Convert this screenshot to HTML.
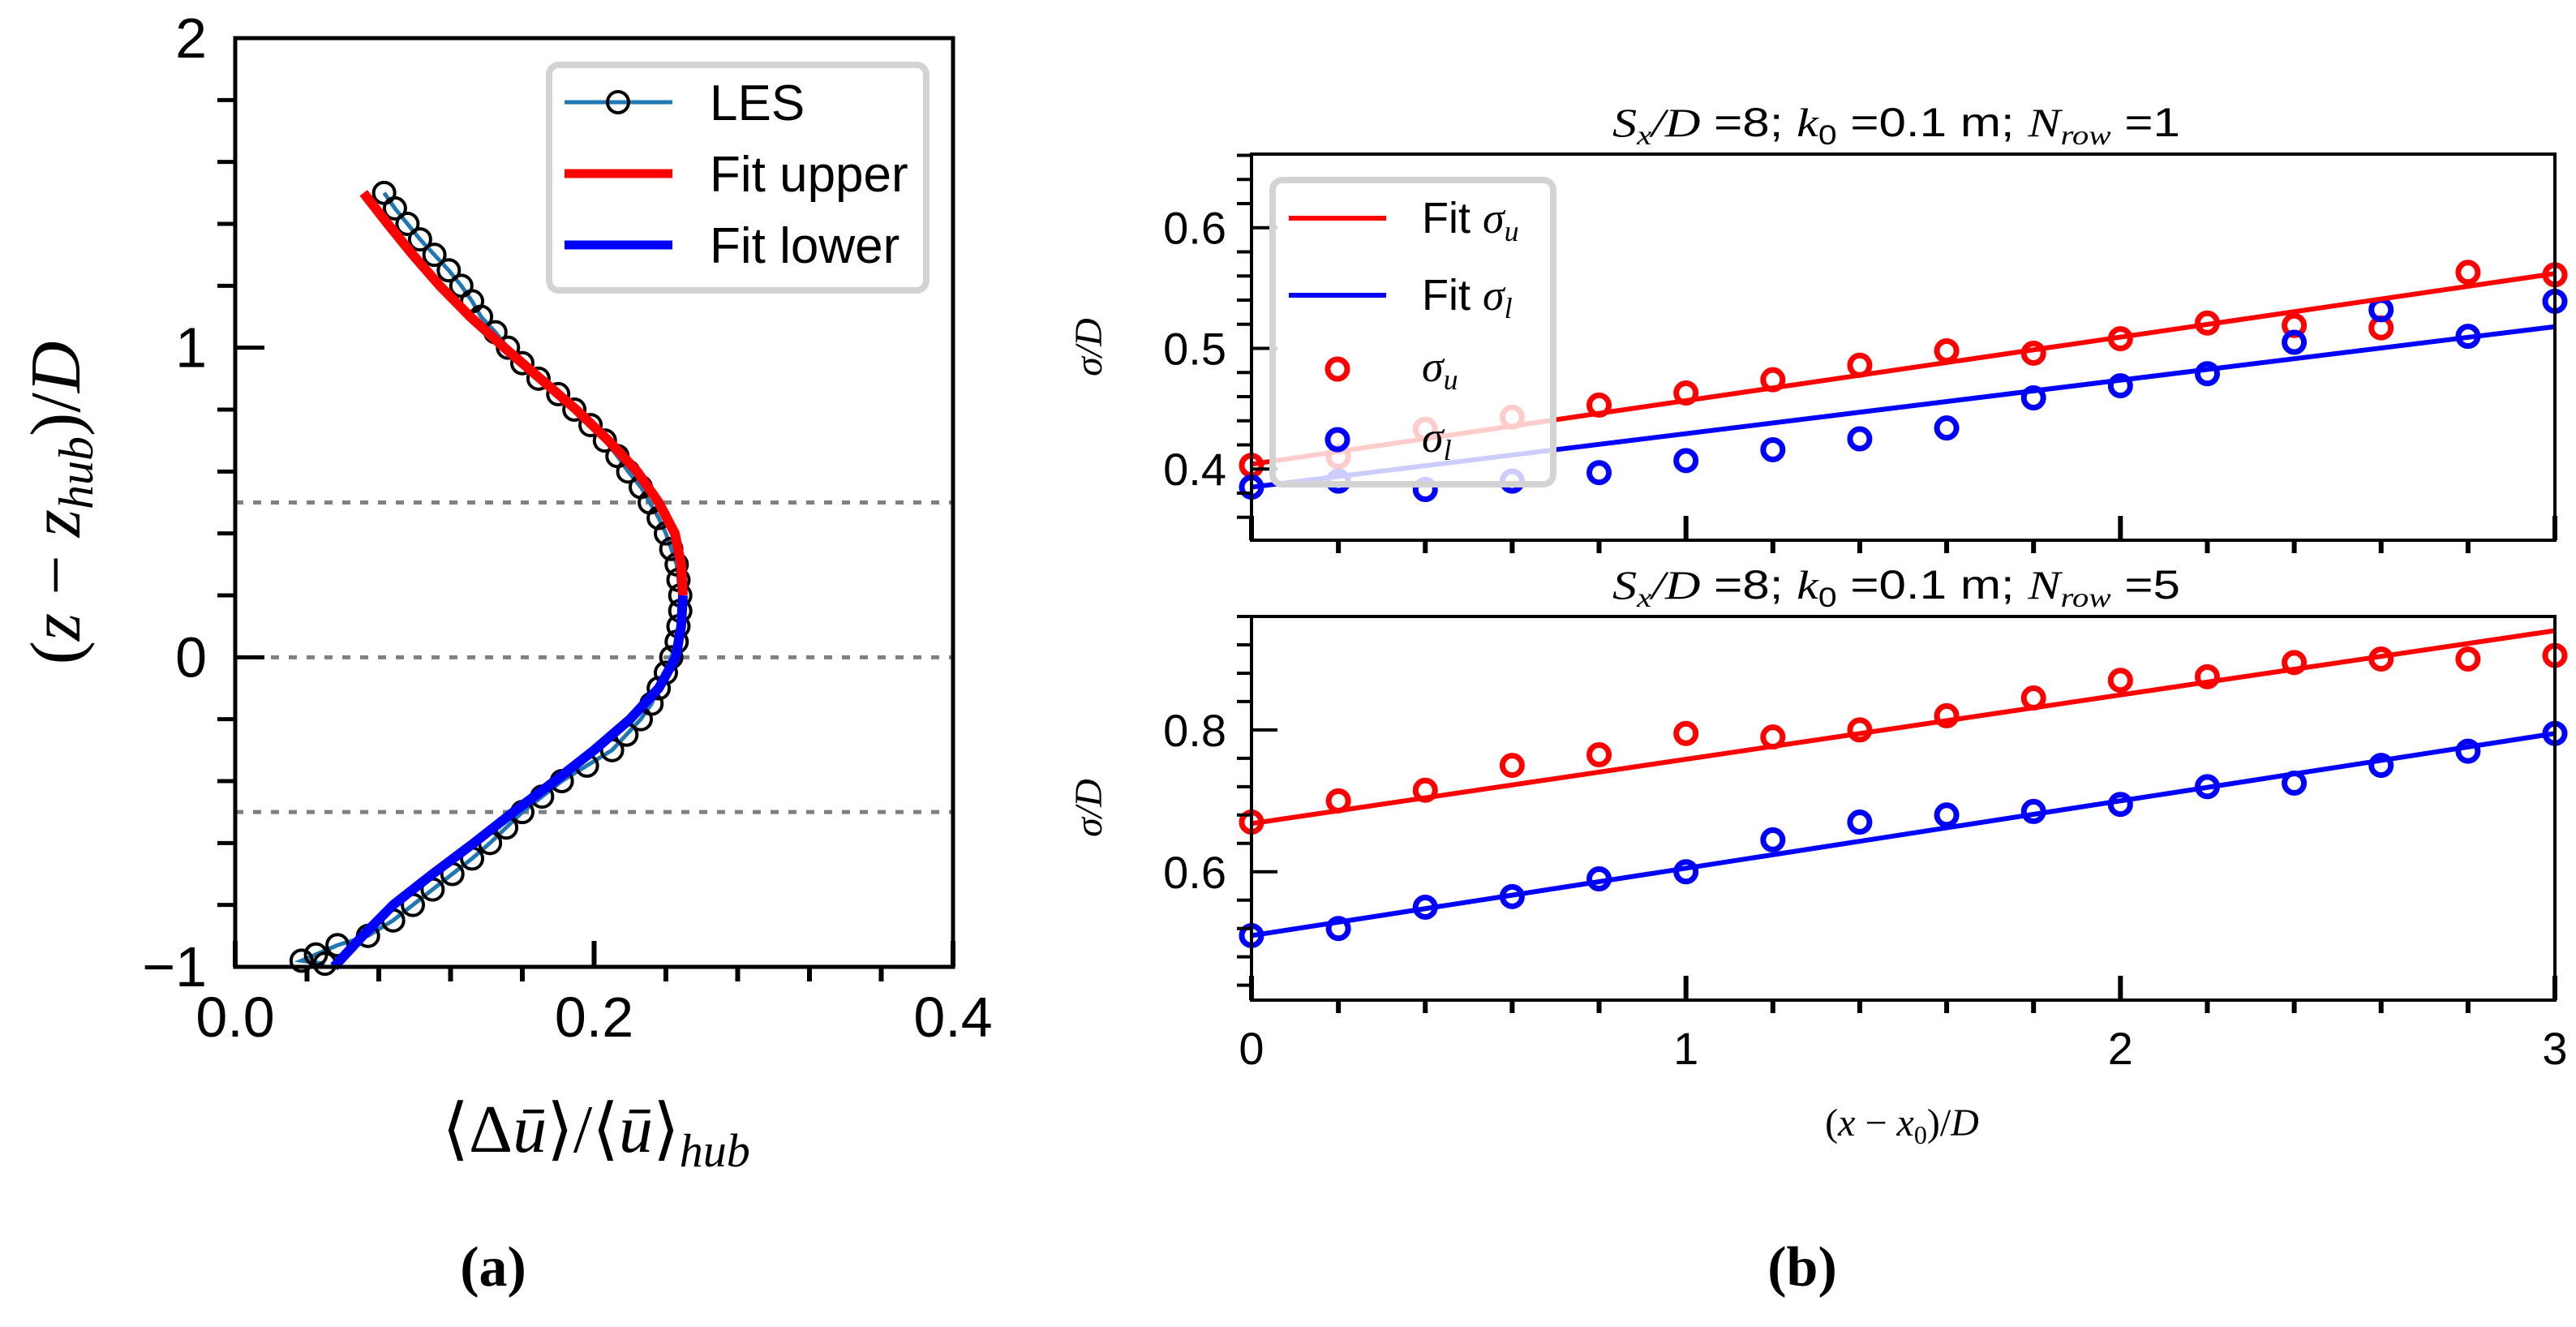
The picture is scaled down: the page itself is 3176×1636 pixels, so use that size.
<!DOCTYPE html>
<html><head><meta charset="utf-8"><style>
html,body{margin:0;padding:0;background:#fff;}
svg{display:block;}
.m{font-family:"Liberation Serif",serif;font-style:italic;}
</style></head><body>
<svg id="fig" width="3176" height="1636" viewBox="0 0 3176 1636" xmlns="http://www.w3.org/2000/svg" font-family="Liberation Sans, sans-serif">
<g id="pa"></g>
<g id="pb"></g>
</svg>
<script>
// ---------- Panel (a) data ----------
const lesY = [1.5,1.45,1.4,1.35,1.3,1.25,1.2,1.15,1.1,1.05,1.0,0.95,0.9,0.85,0.8,0.75,0.7,0.65,0.6,0.55,0.5,0.45,0.4,0.35,0.3,0.25,0.2,0.15,0.1,0.05,0.0,-0.05,-0.1,-0.15,-0.2,-0.25,-0.3,-0.35,-0.4,-0.45,-0.5,-0.55,-0.6,-0.65,-0.7,-0.75,-0.8,-0.85,-0.9,-0.93,-0.96,-0.98,-0.99];
const lesX = [0.083,0.089,0.096,0.103,0.111,0.119,0.126,0.132,0.137,0.145,0.152,0.160,0.169,0.180,0.189,0.198,0.206,0.213,0.219,0.226,0.231,0.236,0.240,0.243,0.246,0.247,0.248,0.248,0.247,0.246,0.243,0.240,0.236,0.232,0.226,0.218,0.210,0.196,0.182,0.171,0.160,0.151,0.142,0.132,0.121,0.110,0.099,0.088,0.074,0.057,0.045,0.037,0.050];
const upY = [1.5,1.4,1.3,1.2,1.1,1.0,0.9,0.8,0.7,0.6,0.5,0.4,0.3,0.2];
const upX = [0.0715,0.085,0.099,0.114,0.131,0.150,0.170,0.190,0.208,0.224,0.236,0.245,0.2485,0.2495];
const loY = [0.2,0.1,0.0,-0.1,-0.2,-0.3,-0.4,-0.5,-0.6,-0.7,-0.8,-0.9,-1.0];
const loX = [0.2495,0.2485,0.2455,0.236,0.22,0.2,0.178,0.155,0.133,0.11,0.088,0.071,0.055];
const aXTicks = ["0.0","0.2","0.4"];
const aXTickVals = [0,0.2,0.4];
const aYTicks = ["−1","0","1","2"];
const aYTickVals = [-1,0,1,2];
const refLines = [0.5,0,-0.5];

// ---------- Panel (b) data ----------
const xb = [0,0.2,0.4,0.6,0.8,1.0,1.2,1.4,1.6,1.8,2.0,2.2,2.4,2.6,2.8,3.0];
const t1SigU = [0.403,0.41,0.433,0.443,0.453,0.463,0.474,0.486,0.498,0.496,0.508,0.521,0.519,0.517,0.563,0.561];
const t1SigL = [0.385,0.39,0.383,0.39,0.397,0.407,0.416,0.425,0.434,0.459,0.469,0.479,0.505,0.532,0.51,0.539];
const t1FitU = [0.404,0.562];
const t1FitL = [0.385,0.518];
const b1SigU = [0.67,0.70,0.715,0.75,0.765,0.795,0.79,0.80,0.82,0.845,0.87,0.875,0.895,0.90,0.90,0.905];
const b1SigL = [0.51,0.52,0.55,0.565,0.59,0.60,0.645,0.67,0.68,0.685,0.695,0.72,0.725,0.75,0.77,0.795];
const b1FitU = [0.668,0.94];
const b1FitL = [0.51,0.795];
const fitX = [0,3];
const bXTicks = ["0","1","2","3"];
const bXTickVals = [0,1,2,3];
const topYTicks = ["0.4","0.5","0.6"];
const topYTickVals = [0.4,0.5,0.6];
const botYTicks = ["0.6","0.8"];
const botYTickVals = [0.6,0.8];

const NS="http://www.w3.org/2000/svg";
function mk(tag, parent, attrs){const e=document.createElementNS(NS,tag);for(const k in attrs)e.setAttribute(k,attrs[k]);parent.appendChild(e);return e;}
function fx(n){return n.toFixed(2);}

// ===== Panel (a) =====
const pa=document.getElementById('pa');
const aL=290,aR=1175,aT=47,aB=1192,aXmin=0,aXmax=0.4,aYmin=-1,aYmax=2;
const ax=v=>aL+(v-aXmin)/(aXmax-aXmin)*(aR-aL);
const ay=v=>aB-(v-aYmin)/(aYmax-aYmin)*(aB-aT);
refLines.forEach(v=>{
  const l=mk('line',pa,{x1:aL,x2:aR,y1:fx(ay(v)),y2:fx(ay(v)),stroke:'#808080','stroke-width':5,'stroke-dasharray':'10 12'});
  
  
});
{
  const p=mk('polyline',pa,{points:lesX.map((x,i)=>fx(ax(x))+','+fx(ay(lesY[i]))).join(' '),fill:'none',stroke:'#1f77b4','stroke-width':5});
  
  
  lesX.forEach((x,i)=>{
    const c=mk('circle',pa,{cx:fx(ax(x)),cy:fx(ay(lesY[i])),r:13,fill:'none',stroke:'#000','stroke-width':4});
    
    
  });
}
{
  const p=mk('polyline',pa,{points:upX.map((x,i)=>fx(ax(x))+','+fx(ay(upY[i]))).join(' '),fill:'none',stroke:'#ff0000','stroke-width':12,'stroke-linejoin':'round'});
  
  
  const q=mk('polyline',pa,{points:loX.map((x,i)=>fx(ax(x))+','+fx(ay(loY[i]))).join(' '),fill:'none',stroke:'#0000ff','stroke-width':12,'stroke-linejoin':'round'});
  
  
}
{
  const f=mk('rect',pa,{x:aL,y:aT,width:aR-aL,height:aB-aT,fill:'none',stroke:'#000','stroke-width':5});
  
  
}
for(let i=0;i<=15;i++){const v=-1+i*0.2;const y=ay(v);
  const major=Math.abs(v-Math.round(v))<1e-6;
  const t=mk('line',pa,major?{x1:aL,x2:aL+36,y1:fx(y),y2:fx(y),stroke:'#000','stroke-width':5}:{x1:aL-22,x2:aL,y1:fx(y),y2:fx(y),stroke:'#000','stroke-width':5});
  
  
}
for(let i=0;i<=10;i++){const v=i*0.04;const x=ax(v);
  const major=(i%5===0);
  const t=mk('line',pa,major?{x1:fx(x),x2:fx(x),y1:aB,y2:aB-32,stroke:'#000','stroke-width':6}:{x1:fx(x),x2:fx(x),y1:aB,y2:aB+18,stroke:'#000','stroke-width':6});
  
  
}
aYTicks.forEach((s,i)=>{const t=mk('text',pa,{x:255,y:fx(ay(aYTickVals[i])+24),'font-size':70,'text-anchor':'end'});t.textContent=s;
  
  });
aXTicks.forEach((s,i)=>{const t=mk('text',pa,{x:fx(ax(aXTickVals[i])),y:1278,'font-size':70,'text-anchor':'middle'});t.textContent=s;
  
  });
{
  const g=mk('g',pa,{});
  
  
  mk('rect',g,{x:677,y:80,width:465,height:278,rx:12,fill:'#fff',stroke:'#d3d3d3','stroke-width':8});
  mk('line',g,{x1:696,x2:829,y1:126,y2:126,stroke:'#1f77b4','stroke-width':5});
  mk('circle',g,{cx:762,cy:126,r:13,fill:'none',stroke:'#000','stroke-width':4});
  mk('line',g,{x1:696,x2:829,y1:214,y2:214,stroke:'#ff0000','stroke-width':11});
  mk('line',g,{x1:696,x2:829,y1:302,y2:302,stroke:'#0000ff','stroke-width':11});
  [['LES',126],['Fit upper',214],['Fit lower',302]].forEach(([s,y])=>{const t=mk('text',g,{x:875,y:y+22,'font-size':62});t.textContent=s;
    
    });
}

// axis labels panel a
(function(){
const yl=document.createElementNS(NS,'text');
yl.setAttribute('transform','translate(98,620) rotate(-90)');
yl.setAttribute('text-anchor','middle');yl.setAttribute('font-size','88');
yl.setAttribute('font-family','Liberation Serif, serif');
yl.innerHTML='(<tspan font-style="italic">z</tspan> − <tspan font-style="italic">z</tspan><tspan font-style="italic" font-size="60" dy="16">hub</tspan><tspan dy="-16">)/</tspan><tspan font-style="italic">D</tspan>';


pa.appendChild(yl);
const xl=document.createElementNS(NS,'text');
xl.setAttribute('x','735');xl.setAttribute('y','1420');xl.setAttribute('text-anchor','middle');xl.setAttribute('font-size','84');
xl.setAttribute('font-family','Liberation Serif, serif');
xl.innerHTML='⟨Δ<tspan font-style="italic">ū</tspan>⟩/⟨<tspan font-style="italic">ū</tspan>⟩<tspan font-style="italic" font-size="58" dy="18">hub</tspan>';


pa.appendChild(xl);
const la=document.createElementNS(NS,'text');
la.setAttribute('x','608');la.setAttribute('y','1585');la.setAttribute('text-anchor','middle');la.setAttribute('font-size','70');la.setAttribute('font-weight','bold');la.setAttribute('font-family','Liberation Serif, serif');
la.textContent='(a)';


pa.appendChild(la);
})();

// ===== Panel (b) =====
(function(){
const pb=document.getElementById('pb');
const L=1543,R=3150;
const bx=v=>L+v/3*(R-L);
function axesBox(T,B,ymin,ymax,minorStep,yTicks,yTickVals,sigU,sigL,fitU,fitL,rowN,showX,ylabelY,legend){
  const sy=v=>B-(v-ymin)/(ymax-ymin)*(B-T);
  const g=mk('g',pb,{});
  
  
  xb.forEach((x,i)=>{
    const c=mk('ellipse',g,{cx:fx(bx(x)),cy:fx(sy(sigU[i])),rx:12,ry:12,fill:'none',stroke:'#ff0000','stroke-width':7});
    
    
  });
  xb.forEach((x,i)=>{
    const c=mk('ellipse',g,{cx:fx(bx(x)),cy:fx(sy(sigL[i])),rx:12,ry:12,fill:'none',stroke:'#0000ff','stroke-width':7});
    
    
  });
  const fu=mk('line',g,{x1:fx(bx(fitX[0])),x2:fx(bx(fitX[1])),y1:fx(sy(fitU[0])),y2:fx(sy(fitU[1])),stroke:'#ff0000','stroke-width':6});
  
  
  const fl=mk('line',g,{x1:fx(bx(fitX[0])),x2:fx(bx(fitX[1])),y1:fx(sy(fitL[0])),y2:fx(sy(fitL[1])),stroke:'#0000ff','stroke-width':6});
  
  
  const fr=mk('rect',g,{x:L,y:T,width:R-L,height:B-T,fill:'none',stroke:'#000','stroke-width':4});
  
  
  const start=Math.ceil(ymin/minorStep-1e-6)*minorStep;
  for(let v=start; v<=ymax+1e-9; v+=minorStep){
    const isMaj=yTickVals.some(t=>Math.abs(t-v)<1e-6);
    const y=sy(v);
    const t=mk('line',g,isMaj?{x1:L,x2:L+32,y1:fx(y),y2:fx(y),stroke:'#000','stroke-width':4}:{x1:L-18,x2:L,y1:fx(y),y2:fx(y),stroke:'#000','stroke-width':4});
    
    
  }
  for(let i=0;i<=15;i++){const v=i*0.2;const x=bx(v);const isMaj=(i%5===0);
    const t=mk('line',g,isMaj?{x1:fx(x),x2:fx(x),y1:B,y2:B-30,stroke:'#000','stroke-width':6}:{x1:fx(x),x2:fx(x),y1:B,y2:B+16,stroke:'#000','stroke-width':6});
    
    
  }
  yTicks.forEach((s,i)=>{const t=mk('text',g,{x:1512,y:fx(sy(yTickVals[i])+20),'font-size':56,'text-anchor':'end'});t.textContent=s;
    
    });
  if(showX){bXTicks.forEach((s,i)=>{const t=mk('text',g,{x:fx(bx(bXTickVals[i])),y:1312,'font-size':56,'text-anchor':'middle'});t.textContent=s;
    
    });}
  const tt=document.createElementNS(NS,'text');
  tt.setAttribute('x','2338');tt.setAttribute('y',String(T-22));tt.setAttribute('text-anchor','middle');tt.setAttribute('font-size','50');
  tt.setAttribute('textLength','700');tt.setAttribute('lengthAdjust','spacingAndGlyphs');
  tt.innerHTML='<tspan class="m">S</tspan><tspan class="m" font-size="34" dy="10">x</tspan><tspan class="m" dy="-10">/D</tspan> =8; <tspan class="m">k</tspan><tspan font-size="34" dy="10">0</tspan><tspan dy="-10"> =0.1 m; </tspan><tspan class="m">N</tspan><tspan class="m" font-size="34" dy="10">row</tspan><tspan dy="-10"> ='+rowN+'</tspan>';
  
  
  g.appendChild(tt);
  const yl=document.createElementNS(NS,'text');
  yl.setAttribute('transform','translate(1358,'+ylabelY+') rotate(-90)');
  yl.setAttribute('text-anchor','middle');yl.setAttribute('font-size','48');yl.setAttribute('font-family','Liberation Serif, serif');yl.setAttribute('font-style','italic');
  yl.textContent='σ/D';
  
  
  g.appendChild(yl);
  if(legend){
    const lg=mk('g',g,{});
    
    
    mk('rect',lg,{x:1569,y:222,width:346,height:375,rx:12,fill:'#fff','fill-opacity':0.8,stroke:'#d3d3d3','stroke-width':8});
    mk('line',lg,{x1:1589,x2:1709,y1:269,y2:269,stroke:'#ff0000','stroke-width':6});
    mk('line',lg,{x1:1589,x2:1709,y1:364,y2:364,stroke:'#0000ff','stroke-width':6});
    mk('ellipse',lg,{cx:1649,cy:455,rx:12,ry:12,fill:'none',stroke:'#ff0000','stroke-width':7});
    mk('ellipse',lg,{cx:1649,cy:542,rx:12,ry:12,fill:'none',stroke:'#0000ff','stroke-width':7});
    const items=[['Fit ','u',287],['Fit ','l',382],['','u',470],['','l',557]];
    items.forEach(([pre,sub,y])=>{
      const e=document.createElementNS(NS,'text');e.setAttribute('x','1753');e.setAttribute('y',String(y));e.setAttribute('font-size','54');
      e.innerHTML=pre+'<tspan class="m">σ</tspan><tspan class="m" font-size="36" dy="10">'+sub+'</tspan>';
      
      
      lg.appendChild(e);
    });
  }
}
axesBox(190,666,0.341,0.661,0.02,topYTicks,topYTickVals,t1SigU,t1SigL,t1FitU,t1FitL,1,false,428,true);
axesBox(760,1233,0.419,0.96,0.04,botYTicks,botYTickVals,b1SigU,b1SigL,b1FitU,b1FitL,5,true,996,false);
const xl=document.createElementNS(NS,'text');
xl.setAttribute('x','2345');xl.setAttribute('y','1400');xl.setAttribute('text-anchor','middle');xl.setAttribute('font-size','48');xl.setAttribute('font-family','Liberation Serif, serif');
xl.innerHTML='(<tspan font-style="italic">x</tspan> − <tspan font-style="italic">x</tspan><tspan font-size="32" dy="10">0</tspan><tspan dy="-10">)/</tspan><tspan font-style="italic">D</tspan>';


pb.appendChild(xl);
const lb=document.createElementNS(NS,'text');
lb.setAttribute('x','2222');lb.setAttribute('y','1585');lb.setAttribute('text-anchor','middle');lb.setAttribute('font-size','70');lb.setAttribute('font-weight','bold');lb.setAttribute('font-family','Liberation Serif, serif');
lb.textContent='(b)';


pb.appendChild(lb);
})();
</script>
</body></html>
